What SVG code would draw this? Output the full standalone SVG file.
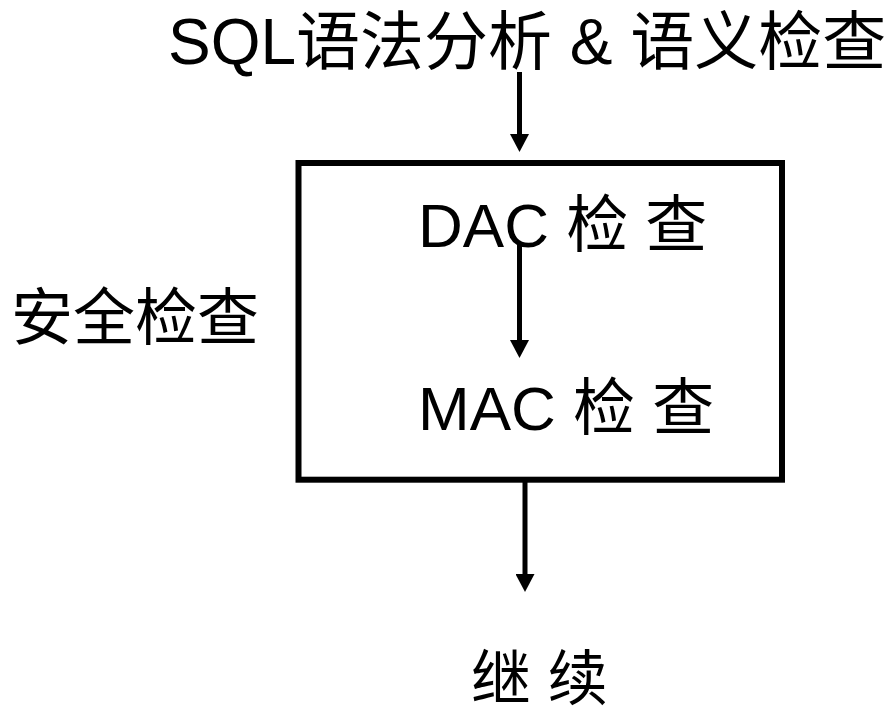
<svg xmlns="http://www.w3.org/2000/svg" width="886" height="714" viewBox="0 0 886 714">
  <style>
    .t { font-family: "Liberation Sans", "Noto Sans CJK SC", sans-serif; fill: #000; }
    .conn { stroke: #000; stroke-width: 5; fill: none; }
  </style>
  <defs>
    <marker id="ah" viewBox="0 0 18 19" refX="6" refY="9.5" markerWidth="18" markerHeight="19" markerUnits="userSpaceOnUse" orient="auto">
      <path d="M0,0 L18,9.5 L0,19 Z" fill="#000"/>
    </marker>
  </defs>
  <rect width="886" height="714" fill="#fff"/>

  <g id="title">
    <text class="t" x="168" y="64" font-size="64">SQL语法分析 &amp; 语义检查</text>
  </g>

  <g id="security-box">
    <rect x="298.5" y="163" width="483.5" height="316.7" fill="none" stroke="#000" stroke-width="6"/>
  </g>

  <g id="security-label">
    <text class="t" x="11" y="340" font-size="62">安全检查</text>
  </g>

  <g id="dac">
    <text class="t" x="418" y="247" font-size="62">DAC 检 查</text>
  </g>

  <g id="mac">
    <text class="t" x="418" y="430" font-size="62">MAC 检 查</text>
  </g>

  <g id="continue">
    <text class="t" x="471" y="700" font-size="60">继 续</text>
  </g>

  <g id="connectors">
    <line class="conn" x1="519.5" y1="72" x2="519.5" y2="140" marker-end="url(#ah)"/>
    <line class="conn" x1="519.5" y1="245" x2="519.5" y2="346" marker-end="url(#ah)"/>
    <line class="conn" x1="525" y1="482" x2="525" y2="580" marker-end="url(#ah)"/>
  </g>
</svg>
